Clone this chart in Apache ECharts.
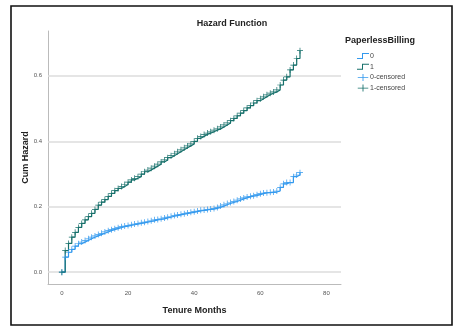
<!DOCTYPE html>
<html>
<head>
<meta charset="utf-8">
<script src="https://cdn.jsdelivr.net/npm/echarts@6/dist/echarts.min.js"></script>
<style>
  html, body { margin: 0; padding: 0; background: #fff; }
  #chart { width: 453px; height: 327px; }
</style>
</head>
<body>
<div id="chart"></div>
<script>
// Tenure month at which each estimate is taken
var months = [];
for (var m = 0; m <= 72; m++) months.push(m);

// Cumulative hazard, PaperlessBilling = 0
var hazard0 = [
  0, 0.046, 0.061, 0.070, 0.080, 0.087, 0.092, 0.097, 0.102, 0.107,
  0.111, 0.115, 0.119, 0.123, 0.127, 0.130, 0.133, 0.136, 0.139, 0.141,
  0.143, 0.145, 0.147, 0.149, 0.151, 0.153, 0.155, 0.157, 0.160, 0.161,
  0.163, 0.166, 0.168, 0.171, 0.173, 0.175, 0.177, 0.179, 0.181, 0.183,
  0.185, 0.187, 0.189, 0.190, 0.192, 0.193, 0.195, 0.198, 0.202, 0.206,
  0.210, 0.213, 0.216, 0.220, 0.224, 0.227, 0.230, 0.232, 0.234, 0.237,
  0.240, 0.242, 0.243, 0.244, 0.245, 0.248, 0.259, 0.270, 0.274, 0.274,
  0.292, 0.297, 0.304
];

// Cumulative hazard, PaperlessBilling = 1
var hazard1 = [
  0, 0.066, 0.088, 0.107, 0.122, 0.137, 0.149, 0.160, 0.170, 0.180,
  0.192, 0.205, 0.214, 0.222, 0.232, 0.241, 0.249, 0.256, 0.262, 0.268,
  0.275, 0.282, 0.287, 0.292, 0.300, 0.307, 0.312, 0.318, 0.324, 0.330,
  0.337, 0.343, 0.350, 0.356, 0.362, 0.368, 0.374, 0.380, 0.386, 0.392,
  0.400, 0.409, 0.415, 0.421, 0.425, 0.429, 0.434, 0.438, 0.444, 0.450,
  0.456, 0.463, 0.470, 0.478, 0.486, 0.494, 0.502, 0.509, 0.517, 0.524,
  0.530, 0.536, 0.542, 0.547, 0.551, 0.557, 0.572, 0.587, 0.597, 0.618,
  0.633, 0.653, 0.677
];

var xTicks = [0, 20, 40, 60, 80];
var yTicks = [0, 0.2, 0.4, 0.6];
var groupNames = ['0', '1', '0-censored', '1-censored'];

var BLUE = '#3399ee';
var TEAL = '#17706b';
var FONT = 'Liberation Sans';

// Thin filled cross used for censored observations
var PLUS = 'path://M4.4,0H5.6V4.4H10V5.6H5.6V10H4.4V5.6H0V4.4H4.4Z';
// Wide cross and small step outline for the legend entries
var PLUS_KEY = 'path://M0,3.5H12V4.5H0Z M5.5,0H6.5V8H5.5Z';
var STEP_KEY = 'path://M0,5H5V0H12V1H6V6H0Z';

function pairs(xs, ys) {
  return xs.map(function (x, i) { return [x, ys[i]]; });
}

var chart = echarts.init(document.getElementById('chart'), null, { renderer: 'canvas' });

chart.setOption({
  animation: false,
  backgroundColor: '#fff',
  title: [
    {
      text: 'Hazard Function',
      left: 232, top: 19, padding: 0, textAlign: 'center',
      textStyle: { fontFamily: FONT, fontSize: 9, fontWeight: 'bold', color: '#222' }
    },
    {
      text: 'PaperlessBilling',
      left: 345, top: 36, padding: 0,
      textStyle: { fontFamily: FONT, fontSize: 9, fontWeight: 'bold', color: '#222' }
    }
  ],
  legend: {
    orient: 'vertical',
    left: 352, top: 47.5,
    itemWidth: 12, itemHeight: 7, itemGap: 3.7,
    textStyle: { fontFamily: FONT, fontSize: 7, color: '#444', padding: [0, 0, 0, -4] },
    data: [
      { name: groupNames[0], icon: STEP_KEY, itemStyle: { color: BLUE } },
      { name: groupNames[1], icon: STEP_KEY, itemStyle: { color: TEAL } },
      { name: groupNames[2], icon: PLUS_KEY, itemStyle: { color: BLUE } },
      { name: groupNames[3], icon: PLUS_KEY, itemStyle: { color: TEAL } }
    ]
  },
  grid: { left: 48, right: 112, top: 31, bottom: 43, containLabel: false },
  xAxis: {
    type: 'value',
    min: -4.2, max: 84.4,
    name: 'Tenure Months',
    nameLocation: 'middle', nameGap: 22, nameMoveOverlap: false,
    nameTextStyle: { fontFamily: FONT, fontSize: 9, fontWeight: 'bold', color: '#222' },
    axisLine: { show: true, onZero: false, lineStyle: { color: '#bbb', width: 1 } },
    axisTick: { show: false },
    splitLine: { show: false },
    axisLabel: {
      customValues: xTicks,
      fontFamily: FONT, fontSize: 6, color: '#555', margin: 6
    }
  },
  yAxis: {
    type: 'value',
    min: -0.036, max: 0.737,
    name: 'Cum Hazard',
    nameLocation: 'middle', nameGap: 18, nameMoveOverlap: false,
    nameTextStyle: { fontFamily: FONT, fontSize: 9, fontWeight: 'bold', color: '#222' },
    axisLine: { show: true, onZero: false, lineStyle: { color: '#bbb', width: 1 } },
    axisTick: { show: false },
    splitLine: { show: false },
    axisLabel: {
      customValues: yTicks,
      fontFamily: FONT, fontSize: 6, color: '#555', margin: 6,
      formatter: function (v) { return v.toFixed(1); }
    }
  },
  series: [
    {
      name: groupNames[0], type: 'line', step: 'end',
      data: pairs(months, hazard0),
      showSymbol: false, symbol: 'none',
      lineStyle: { color: BLUE, width: 1.2 },
      itemStyle: { color: BLUE },
      z: 3,
      markLine: {
        silent: true, symbol: 'none', label: { show: false },
        lineStyle: { color: '#dcdcdc', width: 1.5, type: 'solid' },
        data: yTicks.map(function (v) { return { yAxis: v }; }),
        z: 1
      }
    },
    {
      name: groupNames[1], type: 'line', step: 'end',
      data: pairs(months, hazard1),
      showSymbol: false, symbol: 'none',
      lineStyle: { color: TEAL, width: 1.2 },
      itemStyle: { color: TEAL },
      z: 3
    },
    {
      name: groupNames[2], type: 'scatter',
      data: pairs(months, hazard0),
      symbol: PLUS, symbolSize: 6,
      itemStyle: { color: BLUE, opacity: 1 },
      z: 4
    },
    {
      name: groupNames[3], type: 'scatter',
      data: pairs(months, hazard1),
      symbol: PLUS, symbolSize: 6,
      itemStyle: { color: TEAL, opacity: 1 },
      z: 4
    }
  ],
  graphic: [
    {
      type: 'rect', silent: true, z: 100,
      shape: { x: 11, y: 6, width: 441, height: 319 },
      style: { fill: 'none', stroke: '#111', lineWidth: 1.6 }
    }
  ]
});
</script>
</body>
</html>
